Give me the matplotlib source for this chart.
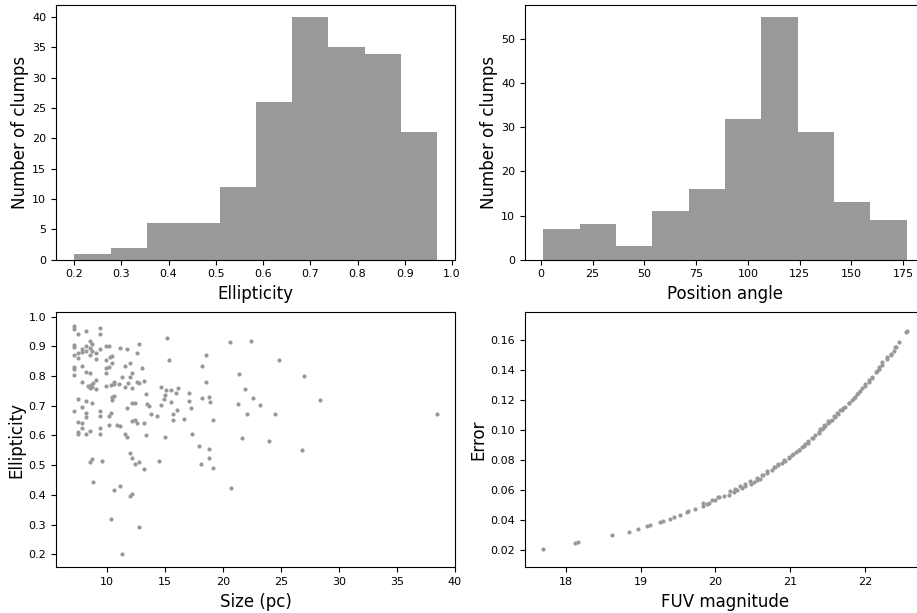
import numpy as np
import matplotlib
matplotlib.use("Agg")
import matplotlib.pyplot as plt

# ---------------- data ----------------
ell_edges = [0.200, 0.277, 0.354, 0.431, 0.508, 0.584, 0.661, 0.738, 0.815, 0.892, 0.968]
ell_counts = [1, 2, 6, 6, 12, 26, 40, 35, 34, 21]

pa_edges = [1.1, 18.7, 36.2, 53.8, 71.4, 88.9, 106.5, 124.1, 141.7, 159.2, 176.8]
pa_counts = [7, 8, 3, 11, 16, 32, 55, 29, 13, 9]

size_pc = [7.16, 7.16, 7.53, 8.17, 9.37, 9.37, 7.16, 7.16, 7.53, 7.88, 8.17, 8.17, 8.51, 8.51,
           8.74, 8.74, 9.03, 9.37, 9.89, 10.17, 7.16, 7.51, 7.82, 8.51, 9.08, 11.09, 11.75, 12.79,
           12.56, 15.14, 7.16, 7.16, 7.16, 7.82, 8.17, 8.51, 9.89, 9.89, 9.89, 10.17, 10.26, 10.40,
           10.40, 11.52, 11.95, 12.99, 15.34, 7.82, 8.40, 8.51, 8.65, 8.80, 8.74, 9.08, 9.08, 9.89,
           10.38, 10.61, 10.61, 11.04, 11.32, 11.52, 11.81, 11.95, 12.18, 12.18, 12.56, 12.79, 13.19,
           13.39, 14.62, 15.05, 15.48, 15.97, 16.14, 15.00, 14.91, 15.48, 14.68, 17.06, 18.21, 18.49,
           18.49, 7.51, 7.16, 7.82, 8.17, 8.74, 8.17, 8.17, 9.37, 9.37, 10.17, 10.38, 10.46, 10.61,
           10.40, 11.75, 12.18, 12.38, 13.47, 13.62, 13.76, 14.28, 15.65, 15.65, 16.00, 16.63, 17.06,
           17.20, 18.21, 18.78, 18.92, 19.15, 7.51, 7.82, 7.82, 7.51, 7.51, 8.17, 8.51, 9.37, 9.37,
           10.17, 10.89, 11.09, 11.52, 11.75, 12.18, 12.38, 12.56, 13.19, 13.39, 15.00, 17.35, 8.51,
           8.74, 9.60, 11.95, 12.18, 12.38, 12.79, 13.19, 14.48, 17.92, 18.78, 18.06, 18.78, 19.15,
           8.80, 10.61, 11.09, 11.95, 12.18, 10.38, 12.79, 11.26,
           20.56, 22.45, 24.83, 21.42, 26.98, 21.88, 22.57, 21.30, 23.23, 28.36, 22.11, 24.52, 38.46,
           21.65, 23.97, 26.78, 20.73]
ellipticity = [0.970, 0.959, 0.941, 0.952, 0.961, 0.943, 0.905, 0.899, 0.877, 0.891, 0.885, 0.902,
               0.918, 0.896, 0.907, 0.885, 0.877, 0.893, 0.902, 0.900, 0.871, 0.860, 0.882, 0.871,
               0.858, 0.896, 0.890, 0.909, 0.877, 0.929, 0.832, 0.824, 0.804, 0.834, 0.815, 0.810,
               0.854, 0.826, 0.809, 0.831, 0.865, 0.869, 0.843, 0.835, 0.845, 0.827, 0.854, 0.779,
               0.767, 0.761, 0.770, 0.776, 0.764, 0.786, 0.755, 0.767, 0.770, 0.781, 0.773, 0.772,
               0.797, 0.764, 0.776, 0.798, 0.809, 0.759, 0.779, 0.777, 0.784, 0.741, 0.763, 0.753,
               0.753, 0.743, 0.759, 0.736, 0.723, 0.714, 0.703, 0.744, 0.834, 0.871, 0.779, 0.722,
               0.682, 0.697, 0.717, 0.710, 0.675, 0.662, 0.682, 0.665, 0.665, 0.676, 0.728, 0.733,
               0.720, 0.691, 0.709, 0.709, 0.707, 0.699, 0.672, 0.665, 0.671, 0.652, 0.687, 0.654,
               0.717, 0.694, 0.725, 0.728, 0.713, 0.652, 0.644, 0.641, 0.626, 0.613, 0.604, 0.606,
               0.615, 0.626, 0.605, 0.635, 0.634, 0.633, 0.605, 0.596, 0.648, 0.653, 0.642, 0.642,
               0.602, 0.595, 0.606, 0.510, 0.521, 0.513, 0.540, 0.523, 0.503, 0.510, 0.488, 0.513,
               0.566, 0.554, 0.505, 0.523, 0.492, 0.444, 0.415, 0.430, 0.397, 0.404, 0.318, 0.293,
               0.200,
               0.914, 0.918, 0.855, 0.806, 0.800, 0.757, 0.726, 0.706, 0.703, 0.721, 0.673, 0.671,
               0.672, 0.590, 0.583, 0.552, 0.424]

fuv_mag = [17.70, 18.12, 18.17, 18.62, 18.85, 18.97, 19.08, 19.13, 19.26, 19.30, 19.39, 19.44,
           19.53, 19.62, 19.64, 19.73, 19.83, 19.89, 19.92, 20.00, 20.05, 20.18, 20.25, 20.29,
           20.36, 20.40, 20.47, 20.51, 20.56, 20.60, 20.64, 20.69, 20.75, 20.80, 20.84, 20.89,
           20.93, 20.98, 21.02, 21.07, 21.11, 21.16, 21.20, 21.24, 21.29, 21.33, 21.38, 21.42,
           21.47, 21.51, 21.56, 21.60, 21.64, 21.69, 21.73, 21.78, 21.82, 21.87, 21.91, 21.96,
           22.00, 22.05, 22.09, 22.14, 22.18, 22.22, 22.29, 22.34, 22.38, 22.41, 22.45, 22.54, 22.56,
           22.40, 22.34, 22.29, 22.22, 22.19, 22.16, 22.09, 22.05, 22.00, 21.93, 21.89, 21.85,
           21.78, 21.71, 21.67, 21.62, 21.58, 21.51, 21.45, 21.40,
           21.53, 21.44, 21.38, 21.31, 21.24, 21.18, 21.11, 21.04, 20.98, 20.91, 20.84, 20.78,
           20.69, 20.62, 20.55, 20.46, 20.40, 20.33, 20.26, 20.20, 20.11, 20.04, 19.95, 19.84]
fuv_err = [0.0207, 0.0245, 0.0250, 0.0299, 0.0321, 0.0339, 0.0359, 0.0364, 0.0384, 0.0391, 0.0408,
           0.0415, 0.0433, 0.0451, 0.0455, 0.0473, 0.0491, 0.0505, 0.0513, 0.0533, 0.0549, 0.0567,
           0.0585, 0.0599, 0.0612, 0.0623, 0.0639, 0.0652, 0.0663, 0.0674, 0.0697, 0.0713, 0.0730,
           0.0750, 0.0764, 0.0777, 0.0795, 0.0813, 0.0831, 0.0851, 0.0867, 0.0885, 0.0903, 0.0925,
           0.0948, 0.0965, 0.0983, 0.1003, 0.1024, 0.1046, 0.1068, 0.1089, 0.1109, 0.1131, 0.1156,
           0.1180, 0.1200, 0.1223, 0.1250, 0.1277, 0.1305, 0.1332, 0.1354, 0.1384, 0.1406, 0.1433,
           0.1473, 0.1502, 0.1529, 0.1556, 0.1585, 0.1652, 0.1663,
           0.1552, 0.1507, 0.1485, 0.1451, 0.1422, 0.1395, 0.1350, 0.1323, 0.1294, 0.1260, 0.1238,
           0.1216, 0.1183, 0.1149, 0.1131, 0.1111, 0.1093, 0.1059, 0.1032, 0.1003,
           0.1059, 0.1015, 0.0981, 0.0948, 0.0914, 0.0891, 0.0869, 0.0842, 0.0820, 0.0797, 0.0769,
           0.0753, 0.0724, 0.0701, 0.0679, 0.0656, 0.0641, 0.0623, 0.0605, 0.0589, 0.0556, 0.0549,
           0.0533, 0.0511]

# ---------------- figure ----------------
plt.rcParams['font.family'] = ['DejaVu Sans']
plt.rcParams['xtick.labelsize'] = 8
plt.rcParams['ytick.labelsize'] = 8
plt.rcParams['axes.labelsize'] = 12

W, H = 917, 613
fig = plt.figure(figsize=(W / 100, H / 100), dpi=100)

def box(x0, x1, y0, y1):
    return [x0 / W, 1 - y1 / H, (x1 - x0) / W, (y1 - y0) / H]

ax1 = fig.add_axes(box(56, 455, 5, 259.7))
ax2 = fig.add_axes(box(525, 925, 5, 259.7))
ax3 = fig.add_axes(box(56, 455, 312.3, 567.3))
ax4 = fig.add_axes(box(525, 925, 312.3, 567.3))

gray = '#999999'

ax1.hist(ell_edges[:-1], bins=ell_edges, weights=ell_counts, color=gray)
ax1.set_xlabel('Ellipticity')
ax1.set_ylabel('Number of clumps', labelpad=2)

ax2.hist(pa_edges[:-1], bins=pa_edges, weights=pa_counts, color=gray)
ax2.set_xlabel('Position angle')
ax2.set_ylabel('Number of clumps', labelpad=2)

ax3.scatter(size_pc, ellipticity, s=9, color=gray, linewidths=0)
ax3.set_xlabel('Size (pc)')
ax3.set_ylabel('Ellipticity', labelpad=2)
ax3.set_xlim(5.6, 40.0)
ax3.set_ylim(0.156, 1.015)

ax4.scatter(fuv_mag, fuv_err, s=9, color=gray, linewidths=0)
ax4.set_xlabel('FUV magnitude')
ax4.set_ylabel('Error', labelpad=2)
ax4.set_xlim(17.456, 22.80)
ax4.set_ylim(0.0082, 0.1786)

fig.savefig('out.png', dpi=100)
